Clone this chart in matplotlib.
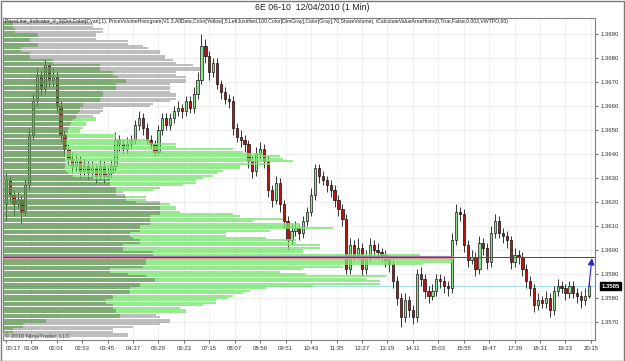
import matplotlib
matplotlib.use('Agg')
import matplotlib.pyplot as plt
import numpy as np
from matplotlib.patches import Rectangle

plt.rcParams['font.family'] = ['Liberation Sans', 'DejaVu Sans']

# ---------------- data ----------------
title = "6E 06-10  12/04/2010 (1 Min)"
indicator_text = ("PriceLine_Indicator_V_3(Dot,Color[Cyan],1), PriceVolumeHistogram(V1.3,AllData,Color[Yellow],5,"
                  "LeftJustified,100,Color[DimGray],Color[Gray],70,ShareVolume), "
                  "iCalculateValueAreaHisto(0,True,False,0.003,VWTPO,60)")
copyright_text = "\u00a9 2010 NinjaTrader, LLC"

time_labels = ["00:17", "01:09", "02:01", "02:53", "03:45", "04:37", "05:29", "06:23",
               "07:15", "08:07", "08:59", "09:51", "10:43", "11:35", "12:27", "13:19",
               "14:11", "15:03", "15:55", "16:47", "17:39", "18:31", "19:23", "20:15"]
price_ticks = [1.3570, 1.3580, 1.3590, 1.3600, 1.3610, 1.3620, 1.3630,
               1.3640, 1.3650, 1.3660, 1.3670, 1.3680, 1.3690]

first_open = 1.3619
closes = [1.3629, 1.3623, 1.3619, 1.3621, 1.3616, 1.3627, 1.3648, 1.3662, 1.3673, 1.3667,
          1.3677, 1.3671, 1.3672, 1.3660, 1.3648, 1.3642, 1.3638, 1.3635, 1.3637, 1.3633,
          1.3635, 1.3632, 1.3634, 1.3631, 1.3635, 1.3631, 1.3632, 1.3635, 1.3646, 1.3644,
          1.3642, 1.3644, 1.3646, 1.3652, 1.3655, 1.3651, 1.3646, 1.3644, 1.3641, 1.3650,
          1.3655, 1.3652, 1.3655, 1.3658, 1.3659, 1.3658, 1.3662, 1.3659, 1.3665, 1.3671,
          1.3685, 1.3681, 1.3674, 1.3678, 1.3669, 1.3666, 1.3663, 1.3662, 1.3651, 1.3647,
          1.3646, 1.3644, 1.3637, 1.3633, 1.3640, 1.3642, 1.3637, 1.3625, 1.3621, 1.3628,
          1.3619, 1.3612, 1.3604, 1.3608, 1.3609, 1.3607, 1.3612, 1.3616, 1.3623, 1.3634,
          1.3631, 1.3629, 1.3627, 1.3625, 1.3621, 1.3617, 1.3613, 1.3592, 1.3602, 1.3598,
          1.3601, 1.3592, 1.3597, 1.3602, 1.3600, 1.3599, 1.3598, 1.3596, 1.3594, 1.3587,
          1.3580, 1.3572, 1.3579, 1.3575, 1.3572, 1.3590, 1.3588, 1.3583, 1.3581, 1.3583,
          1.3588, 1.3587, 1.3585, 1.3584, 1.3604, 1.3616, 1.3615, 1.3602, 1.3596, 1.3597,
          1.3592, 1.3603, 1.3601, 1.3595, 1.3607, 1.3612, 1.3607, 1.3606, 1.3604, 1.3595,
          1.3598, 1.3597, 1.3592, 1.3587, 1.3584, 1.3577, 1.3579, 1.3578, 1.3580, 1.3575,
          1.3583, 1.3585, 1.3584, 1.3582, 1.3585, 1.3582, 1.3581, 1.3579, 1.3581, 1.3585]
highs = [1.3632, 1.3631, 1.3625, 1.3624, 1.3623, 1.3630, 1.3651, 1.3665, 1.3676, 1.3675,
         1.3679, 1.3678, 1.3676, 1.3674, 1.3662, 1.3650, 1.3644, 1.3641, 1.3640, 1.3639,
         1.3638, 1.3637, 1.3637, 1.3636, 1.3638, 1.3637, 1.3635, 1.3638, 1.3649, 1.3648,
         1.3646, 1.3647, 1.3648, 1.3654, 1.3658, 1.3657, 1.3653, 1.3648, 1.3646, 1.3652,
         1.3657, 1.3657, 1.3657, 1.3660, 1.3662, 1.3661, 1.3664, 1.3664, 1.3668, 1.3674,
         1.3690, 1.3688, 1.3683, 1.3680, 1.3680, 1.3671, 1.3668, 1.3665, 1.3664, 1.3653,
         1.3650, 1.3648, 1.3646, 1.3639, 1.3643, 1.3645, 1.3644, 1.3639, 1.3627, 1.3631,
         1.3630, 1.3621, 1.3614, 1.3611, 1.3612, 1.3611, 1.3614, 1.3618, 1.3626, 1.3636,
         1.3636, 1.3633, 1.3631, 1.3629, 1.3627, 1.3623, 1.3619, 1.3615, 1.3605, 1.3604,
         1.3605, 1.3603, 1.3600, 1.3605, 1.3604, 1.3603, 1.3601, 1.3600, 1.3598, 1.3596,
         1.3589, 1.3582, 1.3582, 1.3581, 1.3577, 1.3592, 1.3593, 1.3590, 1.3585, 1.3586,
         1.3590, 1.3590, 1.3589, 1.3587, 1.3607, 1.3619, 1.3618, 1.3617, 1.3604, 1.3600,
         1.3599, 1.3606, 1.3605, 1.3603, 1.3610, 1.3615, 1.3614, 1.3609, 1.3608, 1.3606,
         1.3601, 1.3600, 1.3599, 1.3594, 1.3589, 1.3586, 1.3582, 1.3581, 1.3583, 1.3582,
         1.3585, 1.3588, 1.3587, 1.3586, 1.3587, 1.3587, 1.3584, 1.3583, 1.3584, 1.3587]
lows = [1.3612, 1.3620, 1.3614, 1.3617, 1.3611, 1.3614, 1.3625, 1.3646, 1.3660, 1.3664,
        1.3665, 1.3668, 1.3668, 1.3657, 1.3645, 1.3639, 1.3635, 1.3632, 1.3633, 1.3630,
        1.3631, 1.3629, 1.3630, 1.3628, 1.3629, 1.3628, 1.3629, 1.3630, 1.3633, 1.3641,
        1.3640, 1.3640, 1.3642, 1.3644, 1.3650, 1.3648, 1.3644, 1.3642, 1.3639, 1.3640,
        1.3648, 1.3650, 1.3650, 1.3653, 1.3656, 1.3655, 1.3656, 1.3657, 1.3657, 1.3663,
        1.3669, 1.3678, 1.3671, 1.3672, 1.3667, 1.3663, 1.3661, 1.3659, 1.3648, 1.3645,
        1.3643, 1.3641, 1.3634, 1.3630, 1.3631, 1.3638, 1.3634, 1.3622, 1.3618, 1.3619,
        1.3616, 1.3609, 1.3600, 1.3602, 1.3606, 1.3604, 1.3605, 1.3610, 1.3614, 1.3621,
        1.3628, 1.3627, 1.3624, 1.3622, 1.3618, 1.3614, 1.3610, 1.3590, 1.3590, 1.3595,
        1.3596, 1.3589, 1.3590, 1.3595, 1.3597, 1.3596, 1.3595, 1.3593, 1.3591, 1.3584,
        1.3577, 1.3568, 1.3570, 1.3572, 1.3569, 1.3570, 1.3585, 1.3580, 1.3578, 1.3579,
        1.3581, 1.3584, 1.3582, 1.3581, 1.3582, 1.3602, 1.3612, 1.3599, 1.3593, 1.3594,
        1.3589, 1.3590, 1.3598, 1.3592, 1.3593, 1.3605, 1.3605, 1.3603, 1.3601, 1.3592,
        1.3593, 1.3594, 1.3589, 1.3584, 1.3581, 1.3574, 1.3575, 1.3576, 1.3576, 1.3572,
        1.3573, 1.3581, 1.3582, 1.3579, 1.3580, 1.3580, 1.3578, 1.3576, 1.3577, 1.3580]

# volume profile (price levels from 1.3695 down to 1.3564, one tick apart)
profile_top = 1.3695
profile_tick = 0.0001
gray_volume = [85,
               90, 90, 100, 100, 93, 93, 93, 125, 125, 140,
               145, 157, 157, 162, 162, 170, 173, 190, 197, 197,
               173, 173, 183, 183, 183, 167, 167, 167, 167, 173,
               173, 173, 167, 150, 147, 100, 100, 97, 90, 73,
               70, 68, 67, 66, 65, 65, 64, 64, 63, 63,
               63, 63, 63, 62, 62, 62, 62, 62, 62, 62,
               62, 63, 65, 70, 90, 107, 107, 107, 113, 113,
               120, 122, 123, 123, 157, 157, 157, 157, 157, 157,
               147, 147, 147, 147, 137, 137, 137, 127, 127, 130,
               137, 137, 120, 120, 120, 150, 150, 150, 143, 143,
               143, 140, 107, 107, 125, 143, 152, 152, 137, 137,
               127, 127, 127, 110, 110, 103, 103, 110, 110, 113,
               113, 153, 157, 167, 167, 157, 130, 110, 110, 125, 125]
green_volume = [10,
                10, 10, 12, 12, 35, 35, 27, 27, 35, 35,
                18, 18, 27, 27, 27, 50, 50, 97, 97, 97,
                110, 110, 115, 123, 123, 113, 113, 113, 100, 100,
                100, 98, 97, 80, 80, 77, 77, 75, 73, 93,
                93, 83, 83, 80, 77, 77, 113, 113, 147, 147,
                173, 173, 230, 240, 260, 277, 280, 290, 267, 237,
                237, 220, 215, 210, 200, 193, 193, 180, 157, 150,
                113, 113, 143, 143, 133, 167, 173, 173, 177, 230,
                237, 280, 250, 297, 297, 330, 267, 223, 223, 263,
                293, 293, 317, 317, 300, 300, 417, 450, 450, 450,
                420, 340, 300, 277, 303, 383, 363, 377, 377, 310,
                263, 247, 240, 230, 225, 213, 213, 200, 177, 183,
                183, 117, 117, 43, 43, 20, 20, 10, 10, 0, 0]
poc_price = 1.3597

# ---------------- layout ----------------
W, H = 625, 361
fig = plt.figure(figsize=(W / 100, H / 100), dpi=100)
ax_l, ax_r, ax_t, ax_b = 3, 595, 18, 340
ax = fig.add_axes([ax_l / W, (H - ax_b) / H, (ax_r - ax_l) / W, (ax_b - ax_t) / H])

bars_per_candle = 8
bars_per_label = 52
n = len(closes)
xs = np.arange(n) * bars_per_candle
opens = np.array([first_open] + closes[:-1])
closes_a = np.array(closes)
highs_a = np.array(highs)
lows_a = np.array(lows)

ax.set_xlim(-5.7, 1204.3)
ax.set_ylim(1.35625, 1.369667)

# grid / ticks
tick_pos = np.arange(len(time_labels)) * bars_per_label
ax.set_xticks(tick_pos)
ax.set_xticklabels(time_labels)
ax.set_yticks(price_ticks)
ax.set_yticklabels([f"{p:.4f}" for p in price_ticks])
ax.grid(True, color='#ececec', lw=0.6, zorder=0)
ax.set_axisbelow(True)
ax.yaxis.tick_right()
ax.tick_params(axis='both', labelsize=4.3, colors='#333333', length=2.5, width=0.5, pad=1.5)
ax.tick_params(axis='x', pad=2)
first_lbl = ax.get_xticklabels()[0]
first_lbl.set_horizontalalignment('left')
first_lbl.set_x(tick_pos[0] - 5.7)
for s in ax.spines.values():
    s.set_color('#808080')
    s.set_linewidth(0.8)

# last price line (cyan)
last_close = closes[-1]
ax.axhline(last_close, color='#a6dfe8', lw=0.8, zorder=1)

# candles
up = closes_a >= opens
ax.vlines(xs, lows_a, highs_a, color='black', lw=0.55, zorder=2)
body_bottom = np.minimum(opens, closes_a)
body_h = np.abs(closes_a - opens)
ax.bar(xs[up], body_h[up], bottom=body_bottom[up], width=4.6, color='#8fe08f',
       edgecolor='black', lw=0.45, zorder=3)
ax.bar(xs[~up], body_h[~up], bottom=body_bottom[~up], width=4.6, color='#b81414',
       edgecolor='black', lw=0.45, zorder=3)

# arrow from last price to POC
ax.annotate('', xy=(xs[-1] + 6, poc_price - 0.00004), xytext=(xs[-1], last_close),
            arrowprops=dict(arrowstyle='-|>', color='#2a2ad0', lw=0.8, mutation_scale=10,
                            shrinkA=0, shrinkB=0), zorder=6)

# volume profile on a pixel-scaled twin axis
ax2 = ax.twiny()
ax2.set_xlim(0, ax_r - ax_l)
ax2.set_xticks([])
for s in ax2.spines.values():
    s.set_visible(False)
levels = profile_top - profile_tick * np.arange(len(gray_volume))
g = np.array(gray_volume, float)
gr = np.array(green_volume, float)
both = np.minimum(g, gr)
hgt = profile_tick * 0.9
alpha = 0.78
ax2.barh(levels, both, height=hgt, color='#5e9450', alpha=alpha, lw=0, zorder=3)
ax2.barh(levels, np.clip(g - both, 0, None), left=both, height=hgt, color='#acacac',
         alpha=alpha, lw=0, zorder=3)
ax2.barh(levels, np.clip(gr - both, 0, None), left=both, height=hgt, color='#7ae670',
         alpha=alpha, lw=0, zorder=3)
poc_width = gr.max()
ax2.plot([0, poc_width], [poc_price - 0.00004, poc_price - 0.00004], color='#e8a088', lw=1.0, zorder=4)
ax2.plot([0, poc_width], [poc_price, poc_price], color='#a27ab8', lw=1.6, zorder=4)
ax2.axhline(poc_price, color='#3c3cc0', lw=0.7, zorder=5)
ax2.set_ylim(ax.get_ylim())

# current price box
ax.annotate(f"{last_close:.4f}", xy=(1, last_close), xycoords=('axes fraction', 'data'),
            xytext=(4.5, 0), textcoords='offset points', ha='left', va='center',
            fontsize=4.3, color='white', fontweight='bold',
            bbox=dict(boxstyle='square,pad=0.25', fc='black', ec='black'), zorder=10,
            annotation_clip=False)

# texts
fig.text(0.5, 1 - 8 / H, title, ha='center', va='center', fontsize=6.3, color='#222222')
fig.text(5 / W, 1 - 22 / H, indicator_text, ha='left', va='center', fontsize=3.7, color='#222222')
fig.text(5 / W, 1 - 336 / H, copyright_text, ha='left', va='center', fontsize=4.2, color='#444444')

# outer frame
fig.patches.append(Rectangle((0.5 / W, 0.5 / H), 1 - 1.5 / W, 1 - 1.5 / H, transform=fig.transFigure,
                             fill=False, ec='#7a7a7a', lw=1.0))

fig.savefig('out.png', dpi=100)
